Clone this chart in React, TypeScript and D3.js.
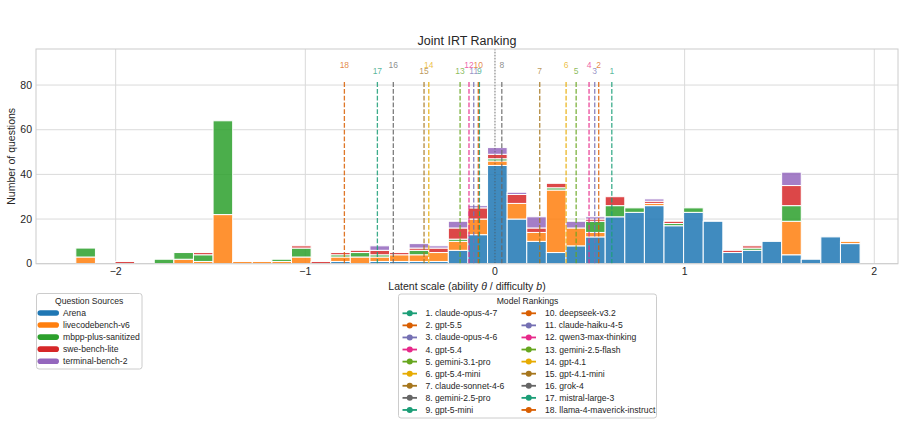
import React from "react";
import * as d3 from "d3";

// ---------- data ----------
const sourceNames = ["Arena", "livecodebench-v6", "mbpp-plus-sanitized", "swe-bench-lite", "terminal-bench-2"];
const sourceColors = ["#1f77b4", "#ff7f0e", "#2ca02c", "#d62728", "#9467bd"];

// histogram: 40 bins between binMin and binMax
const binMin = -2.21;
const binMax = 1.925;
const arenaCounts = [0,0,0,0,0,0,0,0,0,0,0,0,0,1,0,1,1,1,1,6,13,44,20,10,5,8,12,21,23,26,17,23,19,5,6,10,4,2,12,9];
const livecodeCounts = [3,0,0,0,0,2,1,22,1,1,1,3,0,2,3,2,3,3,4,4,7,2,7,4,28,8,2,0,0,1,0,0,0,0,0,0,15,0,0,1];
const mbppCounts = [4,0,0,0,2,3,3,42,0,0,1,4,0,1,2,1,0,2,0,1,0,1,0,0,1,0,5,5,2,0,1,2,0,0,1,0,7,0,0,0];
const sweCounts = [0,0,1,0,0,0,1,0,0,0,0,1,1,1,1,2,1,1,2,5,5,2,4,2,2,0,1,4,0,1,1,0,0,1,1,0,9,0,0,0];
const terminalCounts = [0,0,0,0,0,0,0,0,0,0,0,0,0,0,0,2,0,2,1,3,1,3,1,5,0,3,1,0,0,1,0,0,0,0,0,0,6,0,0,0];
const seriesCounts = [arenaCounts, livecodeCounts, mbppCounts, sweCounts, terminalCounts];

const modelNames = [
  "claude-opus-4-7", "gpt-5.5", "claude-opus-4-6", "gpt-5.4", "gemini-3.1-pro", "gpt-5.4-mini",
  "claude-sonnet-4-6", "gemini-2.5-pro", "gpt-5-mini", "deepseek-v3.2", "claude-haiku-4-5",
  "qwen3-max-thinking", "gemini-2.5-flash", "gpt-4.1", "gpt-4.1-mini", "grok-4", "mistral-large-3",
  "llama-4-maverick-instruct",
];
const modelTheta = [0.616, 0.547, 0.526, 0.496, 0.428, 0.375, 0.236, 0.036, -0.082, -0.088, -0.112, -0.137, -0.184, -0.349, -0.374, -0.536, -0.62, -0.794];
const dark2 = ["#1b9e77", "#d95f02", "#7570b3", "#e7298a", "#66a61e", "#e6ab02", "#a6761d", "#666666"];

const xTicks = [-2, -1, 0, 1, 2];
const yTicks = [0, 20, 40, 60, 80];

// ---------- layout ----------
const W = 905, H = 425;
const L = 36, R = 898, T = 49, B = 263.7;
const FONT = "'Liberation Sans', Arial, sans-serif";
const TXT = "#262626";

export default function App() {
  const x = d3.scaleLinear().domain([-2.42, 2.125]).range([L, R]);
  const y = d3.scaleLinear().domain([0, 96.15]).range([B, T]);
  const nBins = arenaCounts.length;
  const bw = (binMax - binMin) / nBins;

  const bars: JSX.Element[] = [];
  for (let i = 0; i < nBins; i++) {
    let base = 0;
    const x0 = binMin + i * bw;
    seriesCounts.forEach((arr, s) => {
      const v = arr[i];
      if (v > 0) {
        bars.push(
          <rect key={`b${i}-${s}`} x={x(x0)} width={x(x0 + bw) - x(x0)} y={y(base + v)} height={y(base) - y(base + v)}
            fill={sourceColors[s]} fillOpacity={0.85} stroke="#fff" strokeWidth={1} />
        );
        base += v;
      }
    });
  }

  const fmt = (v: number) => (v < 0 ? "\u2212" + Math.abs(v) : String(v));
  const yFrac = (f: number) => B - (B - T) * f;

  return (
    <svg width={W} height={H} style={{ position: "absolute", left: 0, top: 0, background: "#fff" }} fontFamily={FONT}>
      <rect x={0} y={0} width={W} height={H} fill="#fff" />
      {/* grid */}
      {yTicks.map((t) => (
        <line key={`gy${t}`} x1={L} x2={R} y1={y(t)} y2={y(t)} stroke="#dadada" strokeWidth={1} />
      ))}
      {xTicks.map((t) => (
        <line key={`gx${t}`} x1={x(t)} x2={x(t)} y1={T} y2={B} stroke="#dadada" strokeWidth={1} />
      ))}
      {bars}
      {/* zero line */}
      <line x1={x(0)} x2={x(0)} y1={T} y2={B} stroke="#555" strokeOpacity={0.6} strokeWidth={1.1} strokeDasharray="1.2,1.8" />
      {/* model lines */}
      {modelTheta.map((th, i) => (
        <line key={`ml${i}`} x1={x(th)} x2={x(th)} y1={B} y2={yFrac(0.85)} stroke={dark2[i % 8]} strokeOpacity={0.85}
          strokeWidth={1.3} strokeDasharray="4.8,2" />
      ))}
      {modelTheta.map((th, i) => (
        <text key={`mt${i}`} x={x(th)} y={i % 2 === 1 ? 68.3 : 74.3} textAnchor="middle" fontSize={8.5}
          fill={dark2[i % 8]} fillOpacity={0.75}>{i + 1}</text>
      ))}
      {/* frame */}
      <rect x={L} y={T} width={R - L} height={B - T} fill="none" stroke="#cccccc" strokeWidth={1} />
      {/* tick labels */}
      {yTicks.map((t) => (
        <text key={`ty${t}`} x={32} y={y(t) + 3.7} textAnchor="end" fontSize={10.5} fill={TXT}>{t}</text>
      ))}
      {xTicks.map((t) => (
        <text key={`tx${t}`} x={x(t)} y={275} textAnchor="middle" fontSize={10.5} fill={TXT}>{fmt(t)}</text>
      ))}
      {/* labels */}
      <text x={(L + R) / 2} y={44.5} textAnchor="middle" fontSize={12.5} fill={TXT}>Joint IRT Ranking</text>
      <text x={(L + R) / 2} y={290} textAnchor="middle" fontSize={10.5} fill={TXT}>
        Latent scale (ability <tspan fontStyle="italic">θ</tspan> / difficulty <tspan fontStyle="italic">b</tspan>)
      </text>
      <text transform={`translate(15,${(T + B) / 2}) rotate(-90)`} textAnchor="middle" fontSize={10.5} fill={TXT}>Number of questions</text>

      {/* Question Sources legend */}
      <rect x={36.5} y={293.5} width={105.5} height={75.5} rx={2.5} fill="#fff" stroke="#cccccc" strokeWidth={1} />
      <text x={89.2} y={303.8} textAnchor="middle" fontSize={8.6} fill={TXT}>Question Sources</text>
      {sourceNames.map((n, i) => {
        const cy = 313 + i * 12.05;
        return (
          <g key={`qs${i}`}>
            <rect x={37.5} y={cy - 2.8} width={21.5} height={5.6} rx={2.8} fill={sourceColors[i]} />
            <text x={63} y={cy + 3} fontSize={8.6} fill={TXT}>{n}</text>
          </g>
        );
      })}

      {/* Model Rankings legend */}
      <rect x={398.5} y={294} width={258} height={124} rx={2.5} fill="#fff" stroke="#cccccc" strokeWidth={1} />
      <text x={527.5} y={304} textAnchor="middle" fontSize={8.6} fill={TXT}>Model Rankings</text>
      {modelNames.map((n, i) => {
        const col = i < 9 ? 0 : 1;
        const row = i % 9;
        const cy = 313.3 + row * 12.08;
        const lx = col === 0 ? 402.5 : 521.5;
        const tx = col === 0 ? 425.5 : 545;
        const c = dark2[i % 8];
        return (
          <g key={`mr${i}`}>
            <line x1={lx} x2={lx + 14.5} y1={cy} y2={cy} stroke={c} strokeWidth={1.8} />
            <circle cx={lx + 7.25} cy={cy} r={3} fill={c} />
            <text x={tx} y={cy + 3} fontSize={8.6} fill={TXT}>{`${i + 1}. ${n}`}</text>
          </g>
        );
      })}
    </svg>
  );
}
